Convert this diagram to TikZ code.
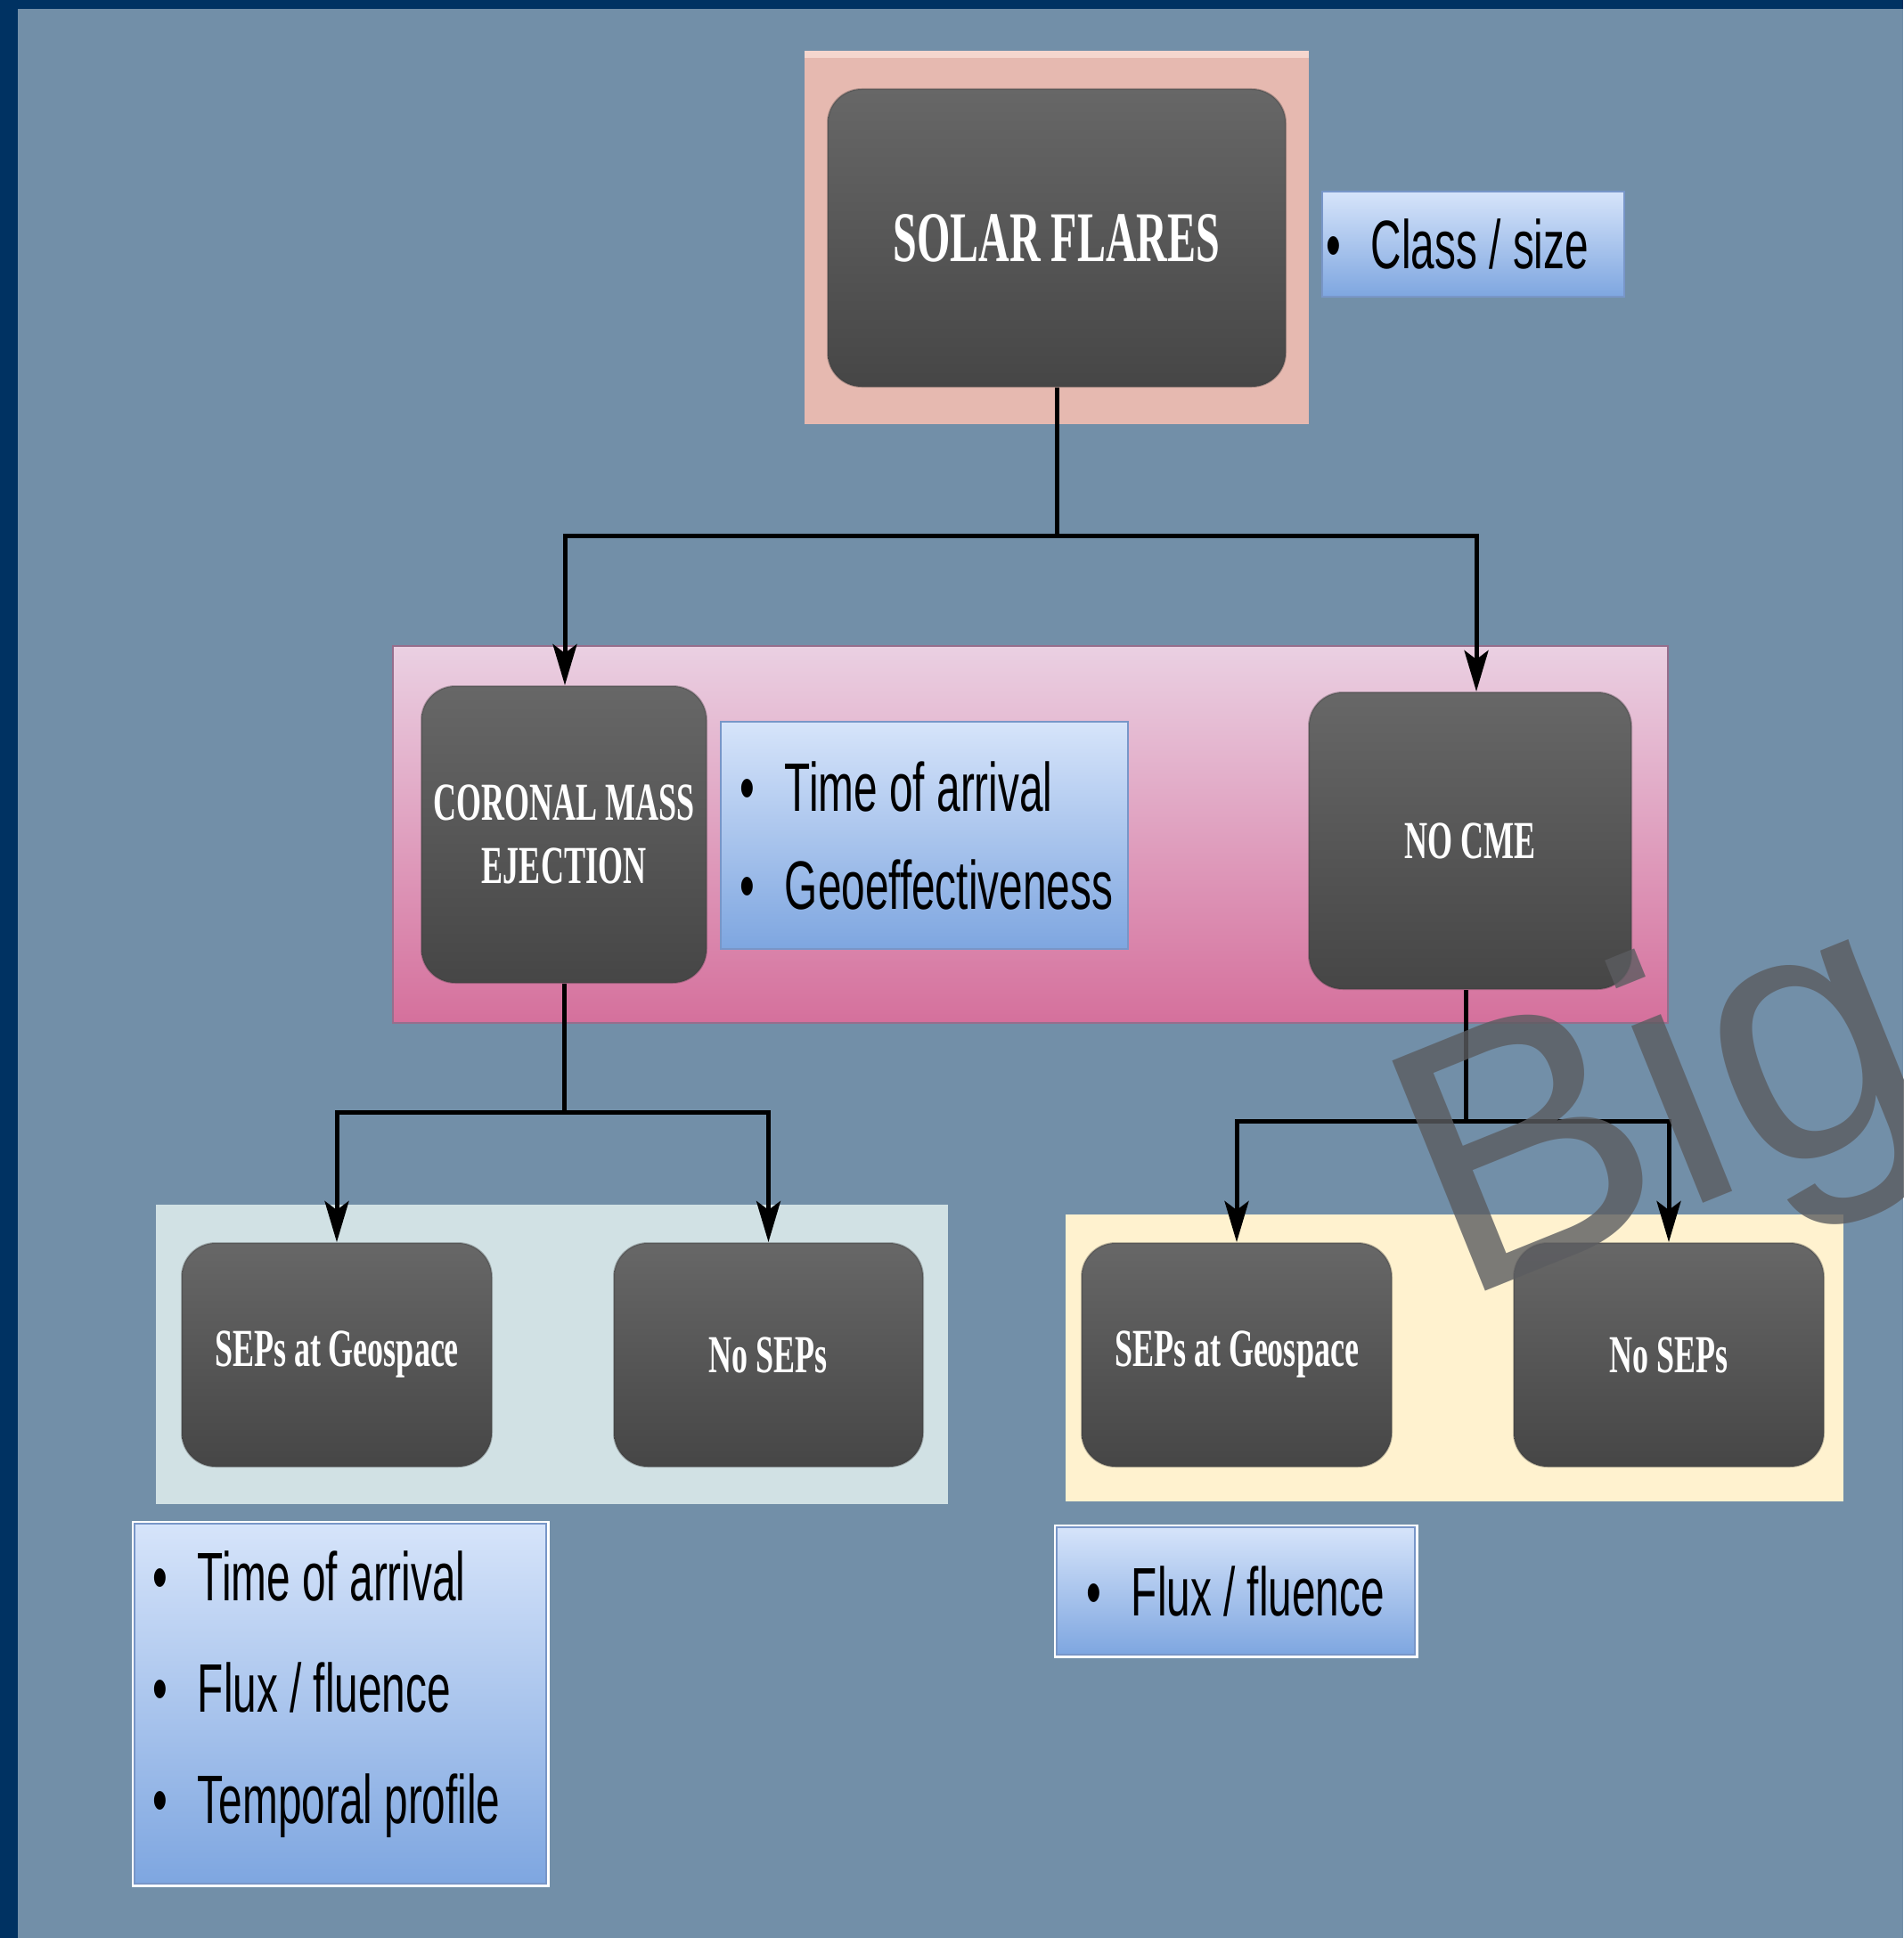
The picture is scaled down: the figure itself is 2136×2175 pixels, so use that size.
\documentclass[tikz,border=0pt]{standalone}
\usepackage{fontspec}
\usetikzlibrary{arrows.meta}
\newfontfamily\boxfont[FakeStretch=0.6]{Liberation Serif}
\newfontfamily\listfont[FakeStretch=0.62]{Liberation Sans}
\newfontfamily\markfont{Liberation Sans}
\definecolor{navy}{RGB}{0,50,98}
\definecolor{slate}{RGB}{114,143,168}
\definecolor{solarpink}{RGB}{230,185,176}
\definecolor{solarlight}{RGB}{245,214,206}
\definecolor{bandtop}{RGB}{234,208,226}
\definecolor{bandbot}{RGB}{213,112,156}
\definecolor{bandedge}{RGB}{150,110,140}
\definecolor{darktop}{RGB}{103,103,103}
\definecolor{darkbot}{RGB}{70,70,70}
\definecolor{darkedge}{RGB}{60,60,60}
\definecolor{listtop}{RGB}{214,228,250}
\definecolor{listbot}{RGB}{126,166,224}
\definecolor{listedge}{RGB}{120,150,200}
\definecolor{greyband}{RGB}{209,225,228}
\definecolor{creamband}{RGB}{255,242,207}
\definecolor{markgray}{RGB}{91,92,96}
\begin{document}
\begin{tikzpicture}[x=1pt,y=-1pt,
  panel/.style={rectangle, inner sep=0pt},
  darkbox/.style={rectangle, rounded corners=38pt, top color=darktop, bottom color=darkbot,
    draw=darkedge, draw opacity=0.35, line width=2pt, text=white, align=center, inner sep=0pt,
    font=\boxfont\bfseries\fontsize{60}{71}\selectfont},
  listbox/.style={rectangle, inner sep=0pt, top color=listtop, bottom color=listbot,
    draw=listedge, line width=2pt},
  framedlist/.style={listbox, preaction={draw=white, line width=7pt}},
  listtext/.style={anchor=west, inner sep=0pt, align=left, text=black,
    font=\listfont\fontsize{77}{110}\selectfont},
  conn/.style={line width=5pt, black},
  arr/.style={conn, -{Stealth[length=46pt, width=27pt, inset=10pt]}}
]
\useasboundingbox (0,0) rectangle (2136,2175);
\clip (0,0) rectangle (2136,2175);
% page background with navy frame
\fill[navy] (0,0) rectangle (2136,2175);
\fill[slate] (20,10) rectangle (2136,2175);

% --- top level: solar flares ---
\node[panel, fill=solarpink, minimum width=566pt, minimum height=419pt] (solarframe) at (1186,266.5) {};
\fill[solarlight] (solarframe.north west) rectangle ([yshift=-8pt]solarframe.north east);
\node[darkbox, minimum width=514pt, minimum height=334pt,
      font=\boxfont\bfseries\fontsize{80}{90}\selectfont] (solar) at (1186,267) {SOLAR FLARES};
\node[listbox, minimum width=339pt, minimum height=118pt] (classbox) at (1653.5,274) {};
\node[listtext] (classtext) at ([xshift=5pt]classbox.west) {\textbullet\hspace{34pt}Class / size};

% --- middle level: CME / no CME ---
\node[panel, top color=bandtop, bottom color=bandbot, draw=bandedge, line width=2pt,
      minimum width=1431pt, minimum height=423pt] (midband) at (1156.5,936.5) {};
\node[darkbox, minimum width=320pt, minimum height=333pt] (cme) at (633,936.5) {CORONAL MASS\\EJECTION};
\node[listbox, minimum width=457pt, minimum height=255pt] (cmelist) at (1037.5,937.5) {};
\node[listtext] (cmetext) at ([xshift=22pt]cmelist.west)
  {\textbullet\hspace{34pt}Time of arrival\\\textbullet\hspace{34pt}Geoeffectiveness};
\node[darkbox, minimum width=362pt, minimum height=333pt] (nocme) at (1650,943.5) {NO CME};

% --- bottom level ---
\node[panel, fill=greyband, minimum width=889pt, minimum height=336pt] (lband) at (619.5,1520) {};
\node[darkbox, minimum width=348pt, minimum height=251pt] (sepL) at (378,1520.5) {SEPs at Geospace};
\node[darkbox, minimum width=347pt, minimum height=251pt] (nosepL) at (862.5,1520.5) {No SEPs};

\node[panel, fill=creamband, minimum width=873pt, minimum height=322pt] (rband) at (1632.5,1524) {};
\node[darkbox, minimum width=348pt, minimum height=251pt] (sepR) at (1388,1520.5) {SEPs at Geospace};
\node[darkbox, minimum width=348pt, minimum height=251pt] (nosepR) at (1873,1520.5) {No SEPs};

\node[framedlist, minimum width=462pt, minimum height=404pt] (llist) at (382,1912) {};
\node[listtext, font=\listfont\fontsize{77}{125}\selectfont] (ltext) at ([xshift=21pt,yshift=10pt]llist.west)
  {\textbullet\hspace{34pt}Time of arrival\\\textbullet\hspace{34pt}Flux / fluence\\\textbullet\hspace{34pt}Temporal profile};

\node[framedlist, minimum width=402pt, minimum height=143pt] (rlist) at (1387,1785.5) {};
\node[listtext] (rtext) at ([xshift=34pt]rlist.west) {\textbullet\hspace{34pt}Flux / fluence};

% --- connectors ---
\coordinate (j0) at (1186,601);
\draw[conn] (solar.south) -- (j0);
\draw[arr] (j0) -| ([xshift=1pt]cme.north);
\draw[arr] (j0) -| ([xshift=7pt]nocme.north);

\coordinate (j1) at (633,1248);
\draw[conn] (cme.south) -- (j1);
\draw[arr] (j1) -| (sepL.north);
\draw[arr] (j1) -| (nosepL.north);

\coordinate (j2) at (1645,1258);
\draw[conn] ([xshift=-5pt]nocme.south) -- (j2);
\draw[arr] (j2) -| (sepR.north);
\draw[arr] (j2) -| (nosepR.north);

% --- watermark ---
\node[anchor=base west, rotate=22, inner sep=0pt, text=markgray, text opacity=0.8,
      font=\markfont\fontsize{405}{405}\selectfont] (mark) at (1636,1462) {Big};
\end{tikzpicture}
\end{document}
